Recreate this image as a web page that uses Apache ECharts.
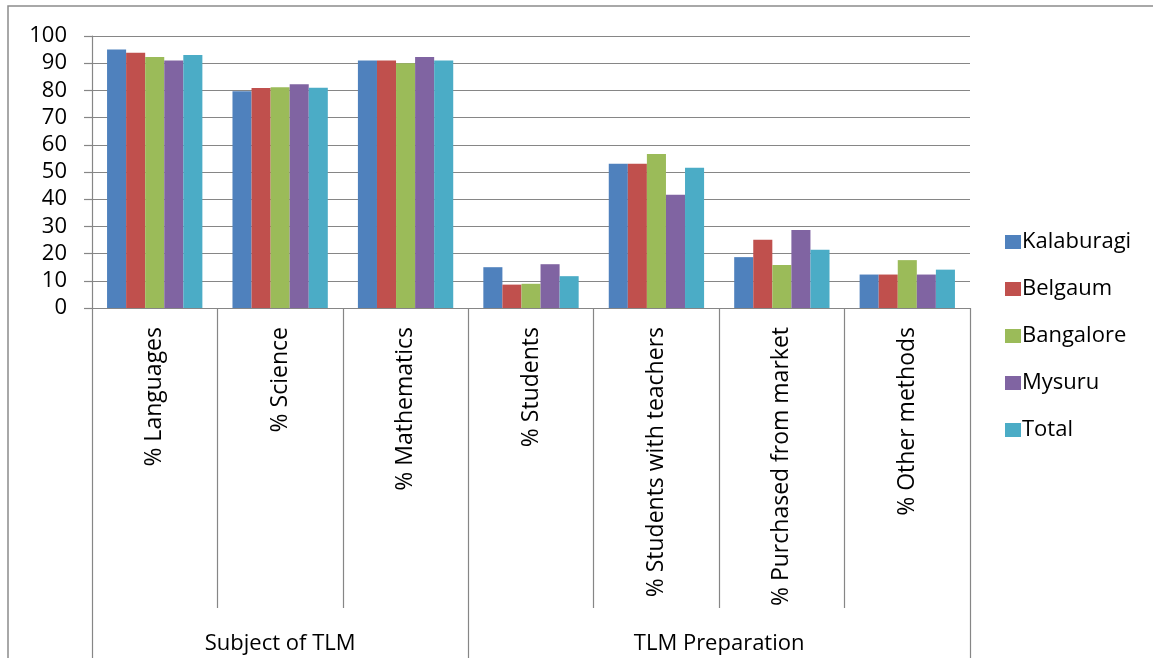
<!DOCTYPE html>
<html>
<head>
<meta charset="utf-8">
<script src="https://cdn.jsdelivr.net/npm/echarts@6/dist/echarts.min.js"></script>
<style>
  html, body { margin: 0; padding: 0; background: #ffffff; }
  #chart { width: 1153px; height: 658px; }
</style>
</head>
<body>
<div id="chart"></div>
<script>
// Teaching-learning material (TLM): subjects covered and how it is prepared, by district
const categories = [
  '% Languages', '% Science', '% Mathematics',
  '% Students', '% Students with teachers', '% Purchased from market', '% Other methods'
];
const groupNames = ['Subject of TLM', 'TLM Preparation'];
const groupSizes = [3, 4];

const kalaburagi = [95, 79.7, 91, 15, 53, 18.7, 12.3];
const belgaum    = [93.8, 80.9, 91, 8.6, 53, 25.1, 12.3];
const bangalore  = [92.3, 81.2, 90, 8.9, 56.6, 15.8, 17.6];
const mysuru     = [91, 82.3, 92.3, 16.1, 41.6, 28.7, 12.3];
const total      = [93, 81, 91, 11.7, 51.6, 21.4, 14.1];

const seriesNames = ['Kalaburagi', 'Belgaum', 'Bangalore', 'Mysuru', 'Total'];
const seriesData = [kalaburagi, belgaum, bangalore, mysuru, total];
const colors = ['#4F81BD', '#C0504D', '#9BBB59', '#8064A2', '#4BACC6'];

const yTicks = { min: 0, max: 100, step: 10 };

// group boundaries and centres along the category band (in category units)
const groupEdges = [0];
groupSizes.forEach(s => groupEdges.push(groupEdges[groupEdges.length - 1] + s));
const groupCentres = groupSizes.map((s, i) => groupEdges[i] + s / 2);

const FONT = '"Open Sans", "Liberation Sans", sans-serif';
const LINE = '#868686';

const chart = echarts.init(document.getElementById('chart'), null, { renderer: 'canvas' });

chart.setOption({
  animation: false,
  color: colors,
  textStyle: { fontFamily: FONT },
  graphic: [{
    type: 'rect',
    shape: { x: 8, y: 6, width: 1200, height: 700 },
    style: { fill: 'none', stroke: '#8c8c8c', lineWidth: 1.5 },
    silent: true
  }],
  grid: { left: 92, top: 36, right: 183, bottom: 350, containLabel: false },
  legend: {
    orient: 'vertical',
    left: 1000,
    top: 226,
    itemWidth: 16,
    itemHeight: 14,
    itemGap: 25,
    icon: 'rect',
    data: seriesNames,
    textStyle: { fontFamily: FONT, fontSize: 22, color: '#000', lineHeight: 22, padding: [0, 0, 0, -4] }
  },
  xAxis: [
    {
      type: 'category',
      data: categories,
      boundaryGap: true,
      axisLine: { show: true, lineStyle: { color: LINE, width: 1.2 } },
      axisTick: { show: true, interval: 0, length: 300, lineStyle: { color: LINE, width: 1.2 } },
      axisLabel: {
        interval: 0, rotate: 90, margin: 19,
        fontFamily: FONT, fontSize: 23, color: '#000'
      },
      splitLine: { show: false }
    },
    {
      type: 'value',
      position: 'bottom',
      offset: 300,
      min: 0,
      max: categories.length,
      axisLine: { show: false },
      axisTick: { show: true, customValues: groupEdges, length: 50, lineStyle: { color: LINE, width: 1.2 } },
      axisLabel: {
        customValues: groupCentres,
        formatter: v => {
          const i = groupCentres.findIndex(c => Math.abs(c - v) < 1e-6);
          return i >= 0 ? groupNames[i] : '';
        },
        margin: 25,
        fontFamily: FONT, fontSize: 22, color: '#000'
      },
      splitLine: { show: false }
    }
  ],
  yAxis: {
    type: 'value',
    min: yTicks.min,
    max: yTicks.max,
    interval: yTicks.step,
    axisLine: { show: true, lineStyle: { color: LINE, width: 1.2 } },
    axisTick: { show: true, length: 8, lineStyle: { color: LINE, width: 1.2 } },
    axisLabel: { margin: 25, fontFamily: FONT, fontSize: 22, color: '#000' },
    splitLine: { show: true, lineStyle: { color: LINE, width: 1.2 } }
  },
  series: seriesNames.map((name, i) => ({
    name,
    type: 'bar',
    xAxisIndex: 0,
    data: seriesData[i],
    barGap: '0%',
    barCategoryGap: '24%',
    itemStyle: { color: colors[i] }
  }))
});
</script>
</body>
</html>
